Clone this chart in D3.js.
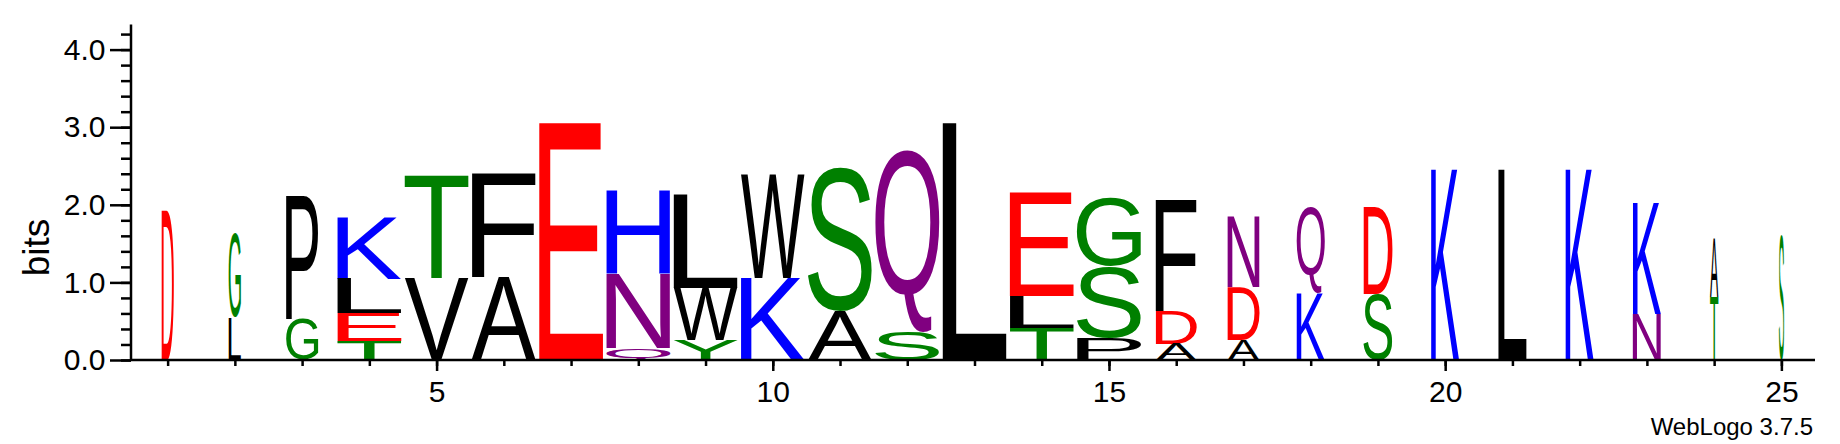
<!DOCTYPE html>
<html>
<head>
<meta charset="utf-8">
<script src="https://cdn.jsdelivr.net/npm/d3@7"></script>
<style>
  body { margin: 0; background: #fff; }
  svg { display: block; }
</style>
</head>
<body>
<svg id="logo"></svg>
<script>
// sequence logo values (bits), top letter first
const positions = d3.range(1, 26)
const stackWeights = [0.19, 0.19, 0.5, 1, 1, 1, 1, 1, 1, 1, 1, 1, 1, 1, 1, 0.64, 0.5, 0.44, 0.45, 0.44, 0.44, 0.44, 0.44, 0.13, 0.08]
const stacks = [
  [["D", 1.93]],
  [["G", 1.08], ["L", 0.55]],
  [["P", 1.58], ["G", 0.53]],
  [["K", 0.79], ["L", 0.44], ["E", 0.36], ["T", 0.24]],
  [["T", 1.33], ["V", 1.06]],
  [["F", 1.33], ["A", 1.07]],
  [["E", 3.06]],
  [["H", 1.08], ["N", 0.96], ["Q", 0.15]],
  [["L", 1.2], ["W", 0.67], ["Y", 0.26]],
  [["W", 1.33], ["K", 1.06]],
  [["S", 1.86], ["A", 0.63]],
  [["Q", 2.34], ["S", 0.37]],
  [["L", 3.06]],
  [["E", 1.34], ["L", 0.41], ["T", 0.41]],
  [["G", 0.89], ["S", 0.93], ["P", 0.28]],
  [["F", 1.44], ["D", 0.42], ["A", 0.21]],
  [["N", 0.9], ["D", 0.68], ["A", 0.26]],
  [["Q", 1.1], ["K", 0.86]],
  [["D", 1.12], ["S", 0.85]],
  [["K", 2.46]],
  [["L", 2.46]],
  [["K", 2.46]],
  [["K", 1.44], ["N", 0.59]],
  [["A", 0.77], ["T", 0.81]],
  [["S", 1.62]]
]
const yTicks = [0, 1, 2, 3, 4]
const xLabels = [5, 10, 15, 20, 25]
const maxBits = Math.log2(20)

const colors = {
  G: "#008000", S: "#008000", T: "#008000", Y: "#008000", C: "#008000",
  N: "#800080", Q: "#800080",
  K: "#0000ff", R: "#0000ff", H: "#0000ff",
  D: "#ff0000", E: "#ff0000",
  P: "#000000", A: "#000000", W: "#000000", F: "#000000", L: "#000000",
  I: "#000000", M: "#000000", V: "#000000"
}

const width = 1840
const height = 444
const font = "'Liberation Sans', Arial, Helvetica, sans-serif"

const svg = d3.select("#logo").attr("width", width).attr("height", height)

const x = d3.scaleLinear().domain([0.5, 25.5]).range([134, 1815])
const y = d3.scaleLinear().domain([0, maxBits]).range([360, 360 - maxBits * 77.6])
const colW = x(2) - x(1)

// tight ink box of each glyph, so the letter can be stretched to its cell
const ctx = document.createElement("canvas").getContext("2d")
ctx.font = `200px ${font}`
const ink = (ch) => {
  const m = ctx.measureText(ch)
  return { l: m.actualBoundingBoxLeft, r: m.actualBoundingBoxRight, a: m.actualBoundingBoxAscent, d: m.actualBoundingBoxDescent }
}

const letters = svg.append("g")
positions.forEach((p, i) => {
  const w = colW * 0.952 * stackWeights[i]
  const x0 = x(p) - w / 2
  let top = y(d3.sum(stacks[i], (d) => d[1]))
  stacks[i].forEach(([ch, bits]) => {
    const h = y(0) - y(bits)
    const m = ink(ch)
    letters
      .append("text")
      .text(ch)
      .attr("font-family", font)
      .attr("font-size", 200)
      .attr("fill", colors[ch])
      .attr("transform", `translate(${x0},${top}) scale(${w / (m.l + m.r)},${h / (m.a + m.d)}) translate(${m.l},${m.a})`)
    top += h
  })
})

// y axis
const yAxis = svg.append("g").attr("transform", "translate(131,0)")
yAxis
  .call(
    d3.axisLeft(y)
      .tickValues(d3.range(0, 4.21, 0.2))
      .tickSize(10)
      .tickFormat(""),
  )
  .call((g) => g.select(".domain").remove())
yAxis
  .append("g")
  .call(d3.axisLeft(y).tickValues(yTicks).tickSize(21).tickFormat(d3.format(".1f")))
  .call((g) => g.select(".domain").remove())
  .selectAll("text")
  .attr("font-family", font)
  .attr("font-size", 30)
  .attr("fill", "#000")
  .attr("dx", "-0.05em")
yAxis.selectAll("line").attr("stroke", "#000").attr("stroke-width", 2.5)
yAxis
  .append("line")
  .attr("y1", y(maxBits))
  .attr("y2", y(0) + 1)
  .attr("stroke", "#000")
  .attr("stroke-width", 2.5)

svg
  .append("text")
  .text("bits")
  .attr("font-family", font)
  .attr("font-size", 37)
  .attr("text-anchor", "middle")
  .attr("transform", `translate(49,${y(1.45)}) rotate(-90)`)

// x axis
const xAxis = svg.append("g").attr("transform", `translate(0,${y(0)})`)
xAxis
  .call(d3.axisBottom(x).tickValues(positions).tickSize(6).tickFormat(""))
  .call((g) => g.select(".domain").remove())
xAxis
  .append("g")
  .call(d3.axisBottom(x).tickValues(xLabels).tickSize(11).tickPadding(10))
  .call((g) => g.select(".domain").remove())
  .selectAll("text")
  .attr("font-family", font)
  .attr("font-size", 30)
  .attr("fill", "#000")
xAxis.selectAll("line").attr("stroke", "#000").attr("stroke-width", 2.5)
xAxis
  .append("line")
  .attr("x1", 131)
  .attr("x2", 1815)
  .attr("stroke", "#000")
  .attr("stroke-width", 2.5)

svg
  .append("text")
  .text("WebLogo 3.7.5")
  .attr("font-family", font)
  .attr("font-size", 24)
  .attr("text-anchor", "end")
  .attr("x", 1813)
  .attr("y", 435)
</script>
</body>
</html>
